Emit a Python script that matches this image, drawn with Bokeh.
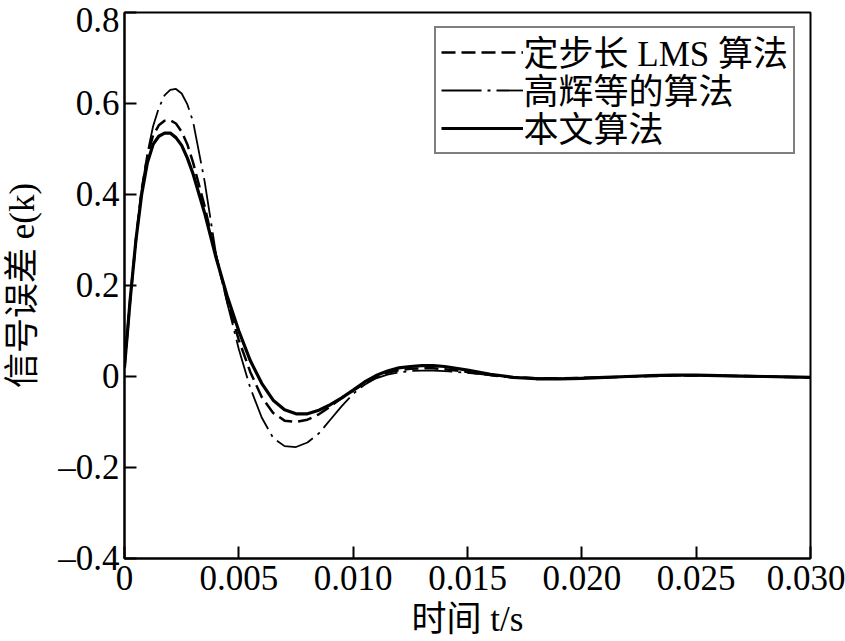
from bokeh.plotting import figure
from bokeh.models import Range1d, FixedTicker, Legend, LegendItem, Label
from bokeh.embed import file_html
from bokeh.resources import INLINE

# time axis (s)
t = [0, 0.00025, 0.0005, 0.00075, 0.001, 0.00125, 0.0015, 0.00175, 0.002, 0.00225,
     0.0025, 0.00275, 0.003, 0.0035, 0.004, 0.0045, 0.005, 0.0055, 0.006, 0.0065,
     0.007, 0.0075, 0.008, 0.0085, 0.009, 0.0095, 0.010, 0.0105, 0.011, 0.0115,
     0.012, 0.0125, 0.013, 0.0135, 0.014, 0.015, 0.016, 0.017, 0.018, 0.019,
     0.020, 0.021, 0.022, 0.023, 0.024, 0.025, 0.026, 0.027, 0.028, 0.029, 0.030]

# 定步长 LMS 算法 (dashed)
e_lms = [0.02, 0.17, 0.30, 0.41, 0.485, 0.53, 0.552, 0.562, 0.563, 0.556,
         0.538, 0.51, 0.47, 0.375, 0.265, 0.165, 0.08, 0.01, -0.045, -0.08,
         -0.097, -0.100, -0.095, -0.083, -0.066, -0.047, -0.031, -0.015, -0.002, 0.008,
         0.014, 0.017, 0.018, 0.018, 0.016, 0.010, 0.003, -0.002, -0.004, -0.004,
         -0.003, -0.002, 0.0, 0.001, 0.002, 0.002, 0.002, 0.001, 0.0, -0.001, -0.002]

# 高辉等的算法 (dash-dot)
e_gao = [0.02, 0.17, 0.30, 0.41, 0.49, 0.55, 0.59, 0.618, 0.63, 0.632,
         0.622, 0.598, 0.56, 0.43, 0.27, 0.16, 0.06, -0.025, -0.09, -0.135,
         -0.153, -0.155, -0.145, -0.125, -0.095, -0.065, -0.038, -0.018, -0.004, 0.004,
         0.009, 0.012, 0.013, 0.013, 0.012, 0.008, 0.003, -0.001, -0.003, -0.004,
         -0.003, -0.002, 0.0, 0.001, 0.002, 0.002, 0.002, 0.001, 0.0, -0.001, -0.002]

# 本文算法 (solid)
e_new = [0.02, 0.17, 0.30, 0.40, 0.47, 0.51, 0.528, 0.535, 0.535, 0.525,
         0.508, 0.48, 0.445, 0.36, 0.262, 0.175, 0.10, 0.035, -0.015, -0.052,
         -0.073, -0.082, -0.082, -0.074, -0.062, -0.047, -0.030, -0.012, 0.002, 0.012,
         0.019, 0.022, 0.024, 0.024, 0.022, 0.014, 0.005, -0.002, -0.005, -0.005,
         -0.004, -0.002, 0.0, 0.002, 0.003, 0.003, 0.002, 0.001, 0.0, -0.001, -0.002]

series_names = ["定步长 LMS 算法", "高辉等的算法", "本文算法"]

x_ticks = [0, 0.005, 0.010, 0.015, 0.020, 0.025, 0.030]
x_tick_labels = ["0", "0.005", "0.010", "0.015", "0.020", "0.025", "0.030"]
y_ticks = [-0.4, -0.2, 0, 0.2, 0.4, 0.6, 0.8]
y_tick_labels = ["\u20130.4", "\u20130.2", "0", "0.2", "0.4", "0.6", "0.8"]

FONT = "Liberation Serif, Noto Sans CJK SC"

p = figure(width=845, height=641, output_backend="svg", toolbar_location=None,
           x_range=Range1d(0, 0.030), y_range=Range1d(-0.4, 0.8),
           min_border_left=123, min_border_right=35, min_border_top=12,
           min_border_bottom=83)

p.xgrid.visible = False
p.ygrid.visible = False
p.outline_line_color = "black"
p.outline_line_width = 2
p.outline_line_alpha = 1

r1 = p.line(t, e_lms, line_color="black", line_width=2.5, line_dash="14 6")
r2 = p.line(t, e_gao, line_color="black", line_width=1.8, line_dash="40 6 3 6")
r3 = p.line(t, e_new, line_color="black", line_width=3.2, line_join="round")

for ax in (p.xaxis[0], p.yaxis[0]):
    ax.axis_line_color = "black"
    ax.axis_line_width = 2
    ax.major_tick_in = 12
    ax.major_tick_out = 0
    ax.major_tick_line_width = 2
    ax.minor_tick_line_color = None
    ax.major_label_text_font = FONT
    ax.major_label_text_font_size = "35px"
    ax.major_label_text_color = "black"
    ax.major_label_text_line_height = 0.9
    ax.axis_label_text_font = FONT
    ax.axis_label_text_font_size = "35px"
    ax.axis_label_text_font_style = "normal"
    ax.axis_label_text_color = "black"
    ax.axis_label_text_line_height = 0.9

p.xaxis.ticker = FixedTicker(ticks=x_ticks)
p.xaxis.major_label_overrides = {v: s for v, s in zip(x_ticks, x_tick_labels)}
p.yaxis.ticker = FixedTicker(ticks=y_ticks)
p.yaxis.major_label_overrides = {v: s for v, s in zip(y_ticks, y_tick_labels)}
p.xaxis.major_label_standoff = 7
p.yaxis.major_label_standoff = 5
p.xaxis.axis_label = "时间 t/s"
p.yaxis.axis_label = "信号误差 e(k)"
p.xaxis.axis_label_standoff = 7
p.yaxis.axis_label_standoff = 13

# legend box and line samples (rows 38 px); names drawn as labels beside them
legend = Legend(items=[
    LegendItem(label=" ", renderers=[r1]),
    LegendItem(label=" ", renderers=[r2]),
    LegendItem(label=" ", renderers=[r3]),
], location=(310, 404))
legend.label_text_font = FONT
legend.label_text_font_size = "10px"
legend.glyph_width = 82
legend.glyph_height = 38
legend.label_height = 38
legend.label_width = 263
legend.label_standoff = 2
legend.spacing = 0
legend.padding = 5
legend.margin = 0
legend.border_line_color = "black"
legend.border_line_width = 2
legend.background_fill_alpha = 0
p.add_layout(legend, "center")

# legend names, screen units relative to the frame (left 123, bottom 558)
row_centers = [504, 466, 428]
for name, yc in zip(series_names, row_centers):
    p.add_layout(Label(x=399, y=yc, x_units="screen", y_units="screen", text=name,
                       text_font=FONT, text_font_size="35px", text_color="black",
                       text_align="left", text_baseline="middle", level="overlay"))

open("out.html", "w").write(file_html(p, INLINE))
